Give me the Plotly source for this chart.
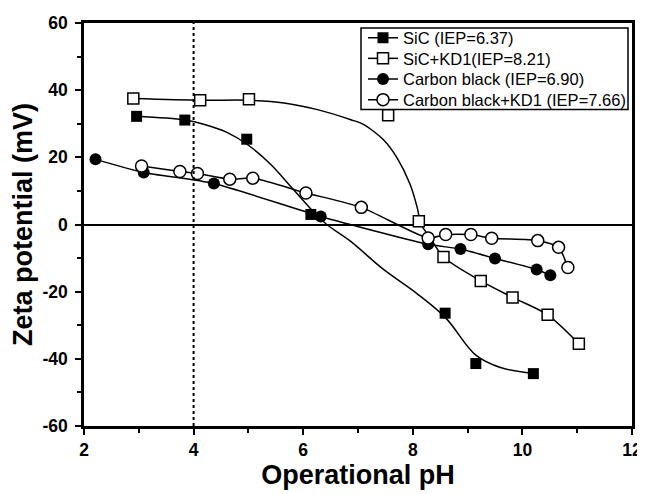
import plotly.graph_objects as go

# ---- data ----
sic_x = [2.96, 3.84, 4.97, 6.14, 8.59, 9.15, 10.20]
sic_y = [32.2, 31.1, 25.4, 3.0, -26.4, -41.4, -44.4]
sic_err = [0, 0, 0, 0, 1.3, 1.3, 0]
sic_fit_x = [2.96, 3.84, 4.2, 4.6, 5.0, 5.4, 5.8, 6.2, 6.43, 6.85, 7.46, 8.07, 8.6, 9.15, 9.6, 10.2]
sic_fit_y = [32.2, 31.1, 29.8, 27.5, 23.6, 18.0, 10.8, 3.6, 0.0, -4.8, -13.3, -20.5, -27.8, -38.9, -42.6, -44.4]

sickd_x = [2.90, 4.12, 5.01, 7.55, 8.11, 8.56, 9.24, 9.82, 10.46, 11.03]
sickd_y = [37.5, 37.0, 37.3, 32.5, 1.0, -9.7, -16.8, -21.7, -26.9, -35.5]
sickd_err = [0, 0, 0, 0, 0.8, 0.8, 0, 1.0, 1.0, 1.0]
sickd_fit_x = [2.90, 4.12, 5.01, 5.65, 6.26, 6.87, 7.10, 7.46, 7.71, 7.95, 8.08, 8.15, 8.30, 8.56, 9.24, 9.82, 10.46, 11.03]
sickd_fit_y = [37.5, 37.0, 37.0, 36.2, 34.2, 31.2, 29.8, 25.3, 19.9, 12.0, 5.1, 0.0, -3.5, -9.7, -16.8, -21.7, -26.9, -35.5]

cb_x = [2.21, 3.09, 4.37, 6.32, 8.28, 8.87, 9.50, 10.26, 10.51]
cb_y = [19.4, 15.5, 12.2, 2.4, -5.9, -7.3, -10.1, -13.4, -15.1]

cbkd_x = [3.05, 3.75, 4.07, 4.66, 5.08, 6.05, 7.06, 8.28, 8.60, 9.06, 9.44, 10.28, 10.66, 10.83]
cbkd_y = [17.4, 15.8, 15.2, 13.5, 13.8, 9.4, 5.1, -4.0, -3.0, -3.0, -4.1, -4.8, -6.8, -12.8]
cbkd_err = [0, 0, 0, 0, 0, 0, 0, 0, 1.2, 1.2, 1.2, 1.2, 1.2, 1.5]

names = ["SiC (IEP=6.37)", "SiC+KD1(IEP=8.21)", "Carbon black (IEP=6.90)", "Carbon black+KD1 (IEP=7.66)"]

x_ticks = [2, 4, 6, 8, 10, 12]
y_ticks = [-60, -40, -20, 0, 20, 40, 60]
iep_line_x = 4

FONT = "Liberation Sans"
BLACK = "black"

# layout geometry (pixels); the page body adds an 8 px offset
PAGE_W, PAGE_H, OFF = 645, 494, 8
W, H = PAGE_W - OFF, PAGE_H - OFF
ML, MR, MT, MB = 76, 13, 13, 68
PW, PH = W - ML - MR, H - MT - MB

def px_x(p):  # page pixel -> paper x
    return (p - OFF - ML) / PW

def px_y(p):  # page pixel -> paper y
    return (OFF + MT + PH - p) / PH

fig = go.Figure()

def err(arr):
    return dict(type="data", array=arr, visible=True, color=BLACK, thickness=1.2, width=4)

line_style = dict(color=BLACK, width=1.5, shape="spline")

# fit / connecting lines
fig.add_trace(go.Scatter(x=sic_fit_x, y=sic_fit_y, mode="lines", line=dict(**line_style, smoothing=1.0), showlegend=False, hoverinfo="skip"))
fig.add_trace(go.Scatter(x=sickd_fit_x, y=sickd_fit_y, mode="lines", line=dict(**line_style, smoothing=0.8), showlegend=False, hoverinfo="skip"))
fig.add_trace(go.Scatter(x=cb_x, y=cb_y, mode="lines", line=dict(**line_style, smoothing=0.6), showlegend=False, hoverinfo="skip"))
fig.add_trace(go.Scatter(x=cbkd_x, y=cbkd_y, mode="lines", line=dict(**line_style, smoothing=0.6), showlegend=False, hoverinfo="skip"))

mk_styles = [
    dict(symbol="square", size=11, color=BLACK),
    dict(symbol="square", size=11, color="white", line=dict(color=BLACK, width=1.5)),
    dict(symbol="circle", size=12, color=BLACK),
    dict(symbol="circle", size=12, color="white", line=dict(color=BLACK, width=1.5)),
]

# markers
fig.add_trace(go.Scatter(x=sic_x, y=sic_y, mode="markers", error_y=err(sic_err), marker=mk_styles[0], showlegend=False))
fig.add_trace(go.Scatter(x=sickd_x, y=sickd_y, mode="markers", error_y=err(sickd_err), marker=mk_styles[1], showlegend=False))
fig.add_trace(go.Scatter(x=cb_x, y=cb_y, mode="markers", marker=mk_styles[2], showlegend=False))
fig.add_trace(go.Scatter(x=cbkd_x, y=cbkd_y, mode="markers", error_y=err(cbkd_err), marker=mk_styles[3], showlegend=False))

# legend entries, one legend per row so the row spacing can match
legend_ids = ["legend", "legend2", "legend3", "legend4"]
row_centers_px = [36.0, 56.8, 77.5, 98.3]
for nm, mk, lid in zip(names, mk_styles, legend_ids):
    fig.add_trace(go.Scatter(x=[None], y=[None], mode="lines+markers", name=nm, legend=lid,
                             line=dict(color=BLACK, width=1.5), marker=mk))

legend_layouts = {}
for lid, cy in zip(legend_ids, row_centers_px):
    legend_layouts[lid] = dict(
        x=px_x(363), y=px_y(cy), xanchor="left", yanchor="middle",
        bgcolor="rgba(0,0,0,0)", borderwidth=0,
        font=dict(family=FONT, size=16.5, color=BLACK),
        tracegroupgap=0, itemwidth=30,
    )

# legend frame
fig.add_shape(type="rect", xref="paper", yref="paper",
              x0=px_x(361), x1=px_x(628), y0=px_y(108), y1=px_y(26),
              line=dict(color=BLACK, width=1.5), fillcolor="white", layer="below")

fig.add_shape(type="line", x0=iep_line_x, x1=iep_line_x, y0=-60, y1=60, xref="x", yref="y",
              line=dict(color=BLACK, width=2, dash="dot"))

axis_common = dict(
    showgrid=False, showline=True, linecolor=BLACK, linewidth=2.5, mirror=True,
    ticks="outside", ticklen=6, tickwidth=2, tickcolor=BLACK, automargin=False,
    tickfont=dict(family=FONT, size=17.5, color=BLACK, weight="bold"),
)

fig.update_xaxes(range=[2, 12], tickvals=x_ticks, ticktext=[str(v) for v in x_ticks],
                 minor=dict(dtick=1, ticklen=4, tickwidth=2, tickcolor=BLACK, ticks="outside"),
                 title=dict(text="Operational pH", font=dict(family=FONT, size=27, color=BLACK, weight="bold"), standoff=4),
                 zeroline=False, **axis_common)
fig.update_yaxes(range=[-60, 60], tickvals=y_ticks, ticktext=[str(v) for v in y_ticks],
                 minor=dict(dtick=10, ticklen=4, tickwidth=2, tickcolor=BLACK, ticks="outside"),
                 ticklabelstandoff=4,
                 title=dict(text="Zeta potential (mV)", font=dict(family=FONT, size=27, color=BLACK, weight="bold"), standoff=4),
                 zeroline=True, zerolinecolor=BLACK, zerolinewidth=2, **axis_common)

fig.update_layout(
    width=W, height=H,
    margin=dict(l=ML, r=MR, t=MT, b=MB),
    paper_bgcolor="white", plot_bgcolor="white",
    showlegend=True,
    **legend_layouts,
)

fig.write_html("out.html")
